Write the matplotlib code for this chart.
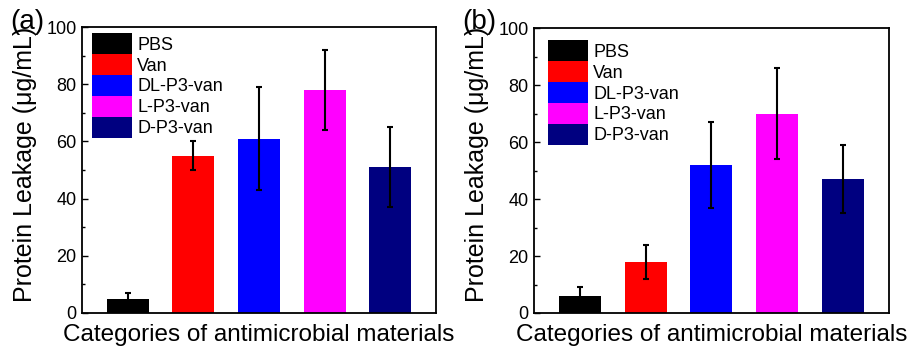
import matplotlib

matplotlib.use("Agg")
import matplotlib.pyplot as plt
from matplotlib.ticker import MultipleLocator

plt.rcParams["font.family"] = ["Liberation Sans", "DejaVu Sans"]

materials = ["PBS", "Van", "DL-P3-van", "L-P3-van", "D-P3-van"]
bar_colors = ["#000000", "#ff0000", "#0000ff", "#ff00ff", "#000080"]

leak_a = [5, 55, 61, 78, 51]
err_a = [2, 5, 18, 14, 14]
leak_b = [6, 18, 52, 70, 47]
err_b = [3, 6, 15, 16, 12]

panels = [
    ("(a)", leak_a, err_a, [0.0901, 0.098, 0.389, 0.824], (0.028, 0.979), 0.011),
    ("(b)", leak_b, err_b, [0.5868, 0.098, 0.390, 0.821], (0.040, 0.958), 0.508),
]

fig = plt.figure(figsize=(9.10, 3.47), dpi=100)

for tag, vals, errs, rect, anchor, tag_x in panels:
    ax = fig.add_axes(rect)
    x = list(range(1, len(materials) + 1))
    bars = ax.bar(x, vals, width=0.64, color=bar_colors, linewidth=0)
    ax.errorbar(x, vals, yerr=errs, fmt="none", ecolor="black",
                elinewidth=1.5, capsize=2.5, capthick=1.5)

    ax.set_xlim(0.3, 5.7)
    ax.set_ylim(0, 100)
    ax.yaxis.set_major_locator(MultipleLocator(20))
    ax.yaxis.set_minor_locator(MultipleLocator(10))
    ax.set_xticks([])
    ax.tick_params(axis="y", which="major", direction="in", length=4.5, width=1,
                   labelsize=13, pad=4)
    ax.tick_params(axis="y", which="minor", direction="in", length=2.5, width=1)
    for sp in ax.spines.values():
        sp.set_linewidth(1.3)

    ax.set_ylabel("Protein Leakage (\u03bcg/mL)", fontsize=18)
    ax.yaxis.set_label_coords(-0.127, 0.52)
    ax.set_xlabel("Categories of antimicrobial materials", fontsize=17.5, labelpad=8)

    ax.legend(bars, materials, loc="upper left", bbox_to_anchor=anchor,
              frameon=False, fontsize=13, handlelength=2.2, handleheight=1.41,
              labelspacing=0, handletextpad=0.3, borderpad=0, borderaxespad=0)

    fig.text(tag_x, 0.975, tag, fontsize=20, va="top", ha="left")

fig.savefig("out.png", dpi=100)
